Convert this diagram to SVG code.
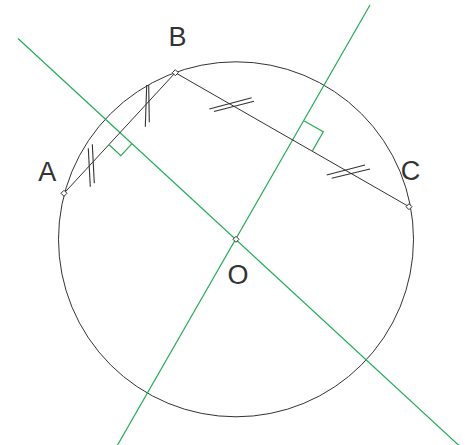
<svg xmlns="http://www.w3.org/2000/svg" width="469" height="445" viewBox="0 0 469 445">
<style>
.k{stroke:#333;stroke-width:1;fill:none}
.g{stroke:#1fae55;stroke-width:1.2;fill:none}
.t{stroke:#333;stroke-width:1.1;fill:none}
.p{stroke:#333;stroke-width:1;fill:#fff}
.lbl{font-family:"Liberation Sans",Arial,sans-serif;font-size:27px;fill:#333;text-anchor:middle}
</style>
<rect width="469" height="445" fill="#fff"/>
<g id="circle"><circle class="k" cx="236" cy="239.3" r="177.5"/></g>
<g id="connectors">
<line class="g" x1="18" y1="38.5" x2="466" y2="452"/>
<line class="g" x1="370" y1="5" x2="117" y2="446"/>
<line class="k" x1="64" y1="193.3" x2="175.3" y2="72.7"/>
<line class="k" x1="175.3" y1="72.7" x2="409" y2="206.7"/>
<polyline class="g" points="109.1,144.8 120.9,155.6 131.8,143.9"/>
<polyline class="g" points="304.2,120.9 323.3,131.8 312.4,150.9"/>
<line class="t" x1="88.3" y1="148.3" x2="90.3" y2="186.7"/>
<line class="t" x1="92.3" y1="144.3" x2="94.3" y2="183.3"/>
<line class="t" x1="146.7" y1="85" x2="145.3" y2="126.7"/>
<line class="t" x1="148.7" y1="85" x2="149.3" y2="122.3"/>
<line class="t" x1="209.3" y1="109" x2="251.7" y2="97.7"/>
<line class="t" x1="214" y1="111.5" x2="254" y2="101.3"/>
<line class="t" x1="326.7" y1="175" x2="365" y2="165"/>
<line class="t" x1="331.7" y1="178.3" x2="370" y2="169"/>
</g>
<g id="A"><polygon class="p" points="64,190.3 67,193.3 64,196.3 61,193.3"/><text class="lbl" x="47.2" y="180.7">A</text></g>
<g id="B"><polygon class="p" points="175.3,69.7 178.3,72.7 175.3,75.7 172.3,72.7"/><text class="lbl" x="177.5" y="45.7">B</text></g>
<g id="C"><polygon class="p" points="409,203.7 412,206.7 409,209.7 406,206.7"/><text class="lbl" x="410.5" y="180.3">C</text></g>
<g id="O"><polygon class="p" points="236,236.3 239,239.3 236,242.3 233,239.3"/><text class="lbl" x="238" y="284">O</text></g>
</svg>
